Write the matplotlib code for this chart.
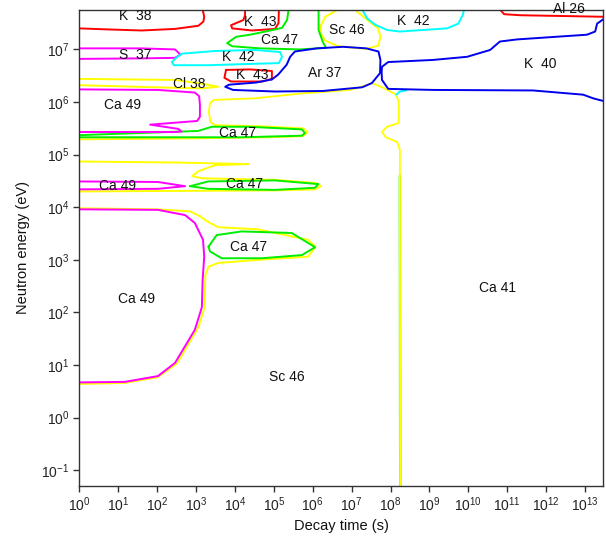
import numpy as np
import matplotlib
matplotlib.use("Agg")
import matplotlib.pyplot as plt
from matplotlib.ticker import LogLocator, NullLocator, LogFormatterSciNotation

plt.rcParams['font.family'] = ['Liberation Sans', 'DejaVu Sans']
plt.rcParams['mathtext.fontset'] = 'custom'
plt.rcParams['mathtext.rm'] = 'Liberation Sans'
plt.rcParams['mathtext.it'] = 'Liberation Sans:italic'
plt.rcParams['mathtext.bf'] = 'Liberation Sans:bold'
plt.rcParams['axes.unicode_minus'] = False

# ---- contour lines: log10(decay time [s]), log10(neutron energy [eV]) ----
k38_t = [0, 0.74, 1.60, 2.46, 3.06, 3.19, 3.21, 3.17]
k38_e = [7.40, 7.38, 7.36, 7.39, 7.45, 7.53, 7.62, 7.76]

k43a_t = [4.26, 4.26, 4.22, 3.90, 3.93, 4.44, 5.03, 5.12, 5.13]
k43a_e = [7.76, 7.65, 7.56, 7.46, 7.40, 7.36, 7.39, 7.50, 7.76]

ca47a_t = [5.38, 5.34, 5.21, 4.85, 4.39, 4.03, 3.80, 3.93, 4.65, 5.67, 6.34, 6.26, 6.15, 6.15]
ca47a_e = [7.76, 7.56, 7.41, 7.35, 7.28, 7.24, 7.12, 7.06, 7.02, 7.00, 7.03, 7.14, 7.37, 7.76]

s37_t = [0, 1.60, 2.46, 2.60, 2.46, 1.60, 0]
s37_e = [7.02, 7.02, 7.00, 6.90, 6.84, 6.83, 6.82]

k42a_t = [2.38, 2.43, 3.31, 4.18, 5.13, 5.21, 5.16, 4.52, 3.49, 2.64, 2.49, 2.38]
k42a_e = [6.76, 6.70, 6.70, 6.72, 6.74, 6.86, 6.95, 6.99, 6.97, 6.92, 6.84, 6.76]

cl38_t = [0, 2.46, 3.23, 3.57, 3.15, 2.46, 0]
cl38_e = [6.44, 6.42, 6.34, 6.29, 6.26, 6.27, 6.32]

ca49a_t = [0, 2.02, 2.97, 3.08, 3.10, 3.10, 3.03, 1.82, 2.54, 2.63, 2.46, 0]
ca49a_e = [6.24, 6.23, 6.18, 6.11, 5.95, 5.72, 5.64, 5.57, 5.49, 5.44, 5.43, 5.43]

k43b_t = [3.77, 3.73, 3.90, 4.70, 4.95, 4.95, 4.39, 3.77]
k43b_e = [6.61, 6.46, 6.39, 6.39, 6.44, 6.59, 6.62, 6.61]

ar37_t = [4.95, 5.11, 5.33, 5.42, 5.54, 6.10, 6.78, 7.38, 7.69, 7.74, 7.73, 7.52,
          7.27, 6.26, 5.03, 3.95, 3.75, 3.85, 4.54, 4.95]
ar37_e = [6.43, 6.52, 6.71, 6.86, 6.96, 7.02, 7.05, 7.02, 6.96, 6.80, 6.55, 6.36,
          6.28, 6.21, 6.20, 6.23, 6.29, 6.33, 6.37, 6.43]

k40_t = [13.52, 13.31, 13.26, 13.05, 11.25, 10.81, 10.56, 9.97, 9.09, 7.94, 7.78,
         7.77, 7.78, 7.94, 9.09, 11.66, 12.95, 13.21, 13.52]
k40_e = [7.60, 7.49, 7.34, 7.28, 7.19, 7.15, 6.99, 6.86, 6.80, 6.76, 6.67,
         6.57, 6.42, 6.25, 6.23, 6.22, 6.14, 6.07, 6.01]

sc46a_t = [6.65, 6.32, 6.21, 6.21, 6.32, 6.65, 7.37, 7.68, 7.74, 7.68, 7.37, 7.07]
sc46a_e = [7.76, 7.62, 7.45, 7.30, 7.17, 7.06, 7.01, 7.07, 7.24, 7.40, 7.58, 7.76]

k42b_t = [7.27, 7.40, 7.60, 7.91, 8.24, 9.45, 9.74, 9.86, 9.89]
k42b_e = [7.76, 7.59, 7.47, 7.37, 7.34, 7.40, 7.49, 7.66, 7.76]

k42c_t = [8.15, 8.24, 8.40]
k42c_e = [6.14, 6.20, 6.22]

al26_t = [10.81, 10.92, 11.33, 13.52]
al26_e = [7.76, 7.67, 7.65, 7.62]

sc46b_t = [0, 3.10, 4.90, 5.75, 5.87, 5.75, 4.65, 3.49, 3.37, 3.33, 3.36, 3.46, 4.51,
           5.67, 6.96, 7.34, 7.52, 7.81, 8.15, 8.21, 8.21, 7.91, 7.78, 7.88, 8.17,
           8.24, 8.24, 8.25]
sc46b_e = [5.29, 5.31, 5.33, 5.35, 5.43, 5.50, 5.54, 5.56, 5.62, 5.81, 5.98, 6.04, 6.07,
           6.16, 6.23, 6.31, 6.36, 6.27, 6.14, 6.00, 5.60, 5.53, 5.43, 5.33, 5.24,
           5.09, 4.14, -1.40]

ca41_t = [8.24, 8.24, 8.25]
ca41_e = [4.60, 4.14, -1.40]

ca47b_t = [0, 3.05, 3.41, 4.34, 5.72, 5.80, 5.72, 4.18, 0]
ca47b_e = [5.37, 5.45, 5.53, 5.53, 5.48, 5.41, 5.36, 5.33, 5.33]

sc46c_t = [0, 2.46, 4.34, 3.49, 3.05, 2.90, 3.15, 5.03, 6.09, 6.21, 6.06, 5.03, 2.46, 0]
sc46c_e = [4.87, 4.85, 4.82, 4.80, 4.68, 4.59, 4.55, 4.52, 4.46, 4.40, 4.34, 4.32, 4.31, 4.30]

ca49b_t = [0, 2.02, 2.72, 2.02, 0]
ca49b_e = [4.49, 4.48, 4.40, 4.35, 4.34]

ca47c_t = [2.85, 3.31, 5.03, 6.14, 6.06, 5.03, 3.31, 2.85]
ca47c_e = [4.40, 4.49, 4.51, 4.44, 4.37, 4.33, 4.35, 4.40]

ca49c_t = [0, 2.02, 2.72, 2.97, 3.18, 3.21, 3.17, 3.15, 2.97, 2.46, 2.02, 1.17, 0]
ca49c_e = [3.96, 3.95, 3.85, 3.70, 3.38, 3.06, 2.62, 2.10, 1.67, 1.04, 0.79, 0.68, 0.67]

sc46d_t = [0, 2.02, 2.85, 3.10, 3.31, 3.57, 4.59, 5.88, 6.07, 5.88, 4.59, 3.57, 3.32,
           3.24, 3.22, 3.06, 2.51, 2.02, 1.17, 0]
sc46d_e = [3.98, 3.96, 3.92, 3.83, 3.72, 3.62, 3.58, 3.38, 3.25, 3.06, 3.00, 2.94, 2.87,
           2.71, 2.10, 1.72, 1.03, 0.77, 0.66, 0.64]

ca47d_t = [3.32, 3.53, 4.17, 5.46, 6.06, 5.72, 4.69, 3.66, 3.36, 3.32]
ca47d_e = [3.25, 3.47, 3.54, 3.51, 3.24, 3.09, 3.03, 3.03, 3.16, 3.25]

# (time, energy, colour, width)
curves = [
    (ca41_t, ca41_e, '#66ee00', 1.8),
    (sc46b_t, sc46b_e, '#ffff00', 1.3),
    (sc46c_t, sc46c_e, '#ffff00', 1.4),
    (sc46d_t, sc46d_e, '#ffff00', 1.4),
    (cl38_t, cl38_e, '#ffff00', 1.4),
    (sc46a_t, sc46a_e, '#ffff00', 1.4),
    (k38_t, k38_e, '#ff0000', 1.4),
    (k43a_t, k43a_e, '#ff0000', 1.4),
    (k43b_t, k43b_e, '#ff0000', 1.4),
    (al26_t, al26_e, '#ff0000', 1.4),
    (ca47a_t, ca47a_e, '#00ee00', 1.4),
    (ca47b_t, ca47b_e, '#00ee00', 1.4),
    (ca47c_t, ca47c_e, '#00ee00', 1.4),
    (ca47d_t, ca47d_e, '#00ee00', 1.4),
    (s37_t, s37_e, '#ff00ff', 1.4),
    (ca49a_t, ca49a_e, '#ff00ff', 1.4),
    (ca49b_t, ca49b_e, '#ff00ff', 1.4),
    (ca49c_t, ca49c_e, '#ff00ff', 1.4),
    (k42a_t, k42a_e, '#00ffff', 1.4),
    (k42b_t, k42b_e, '#00ffff', 1.4),
    (k42c_t, k42c_e, '#00ffff', 1.4),
    (ar37_t, ar37_e, '#0000ee', 1.4),
    (k40_t, k40_e, '#0000ee', 1.4),
]

# ---- region labels: text, log10(time), log10(energy) ----
label_text = ['K  38', 'K  43', 'Ca 47', 'S  37', 'K  42', 'Cl 38', 'K  43', 'Ar 37',
              'Sc 46', 'K  42', 'Al 26', 'K  40', 'Ca 49', 'Ca 47', 'Ca 49', 'Ca 47',
              'Ca 47', 'Ca 49', 'Sc 46', 'Ca 41']
label_t = [1.43, 4.64, 5.16, 1.43, 4.08, 2.82, 4.44, 6.32, 6.88, 8.58, 12.59, 11.84,
           1.12, 4.08, 0.97, 4.26, 4.34, 1.48, 5.34, 10.74]
label_e = [7.64, 7.52, 7.18, 6.90, 6.86, 6.35, 6.52, 6.55, 7.37, 7.54, 7.76, 6.72,
           5.94, 5.41, 4.40, 4.44, 3.25, 2.26, 0.77, 2.47]

fig = plt.figure(figsize=(6.06, 5.48), dpi=100)
ax = fig.add_axes([0.1309, 0.1131, 0.8647, 0.8687])

for t, e, c, w in curves:
    ax.plot(np.power(10.0, t), np.power(10.0, e), color=c, lw=w,
            solid_joinstyle='round', solid_capstyle='round')

for s, t, e in zip(label_text, label_t, label_e):
    ax.text(10 ** t, 10 ** e, s, ha='center', va='center', fontsize=10,
            color='#111111', clip_on=False)

ax.set_xscale('log')
ax.set_yscale('log')
ax.set_xlim(1, 10 ** 13.47)
ax.set_ylim(10 ** -1.30, 10 ** 7.75)

ax.xaxis.set_major_locator(LogLocator(base=10, numticks=30))
ax.yaxis.set_major_locator(LogLocator(base=10, numticks=30))
ax.xaxis.set_minor_locator(NullLocator())
ax.yaxis.set_minor_locator(NullLocator())
ax.xaxis.set_major_formatter(LogFormatterSciNotation())
ax.yaxis.set_major_formatter(LogFormatterSciNotation())

ax.tick_params(direction='out', length=4, width=1, colors='#333333',
               labelsize=10, labelcolor='#222222', pad=3)
for sp in ax.spines.values():
    sp.set_color('#333333')
    sp.set_linewidth(1.0)

ax.set_xlabel('Decay time (s)', fontsize=10.5, color='#111111', labelpad=3)
ax.set_ylabel('Neutron energy (eV)', fontsize=10.5, color='#111111', labelpad=8)

fig.savefig('out.png', dpi=100)
